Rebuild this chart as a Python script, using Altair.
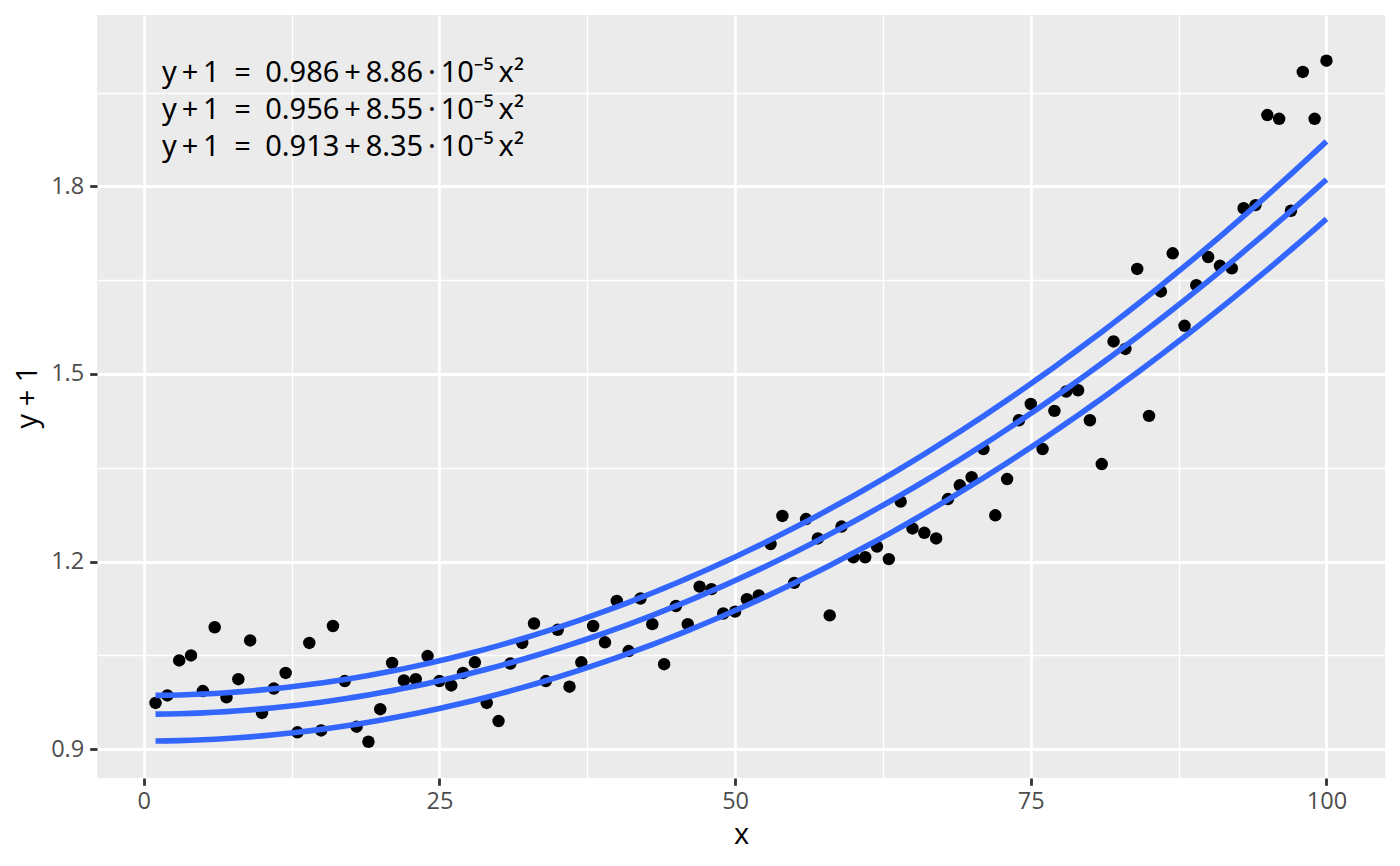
import altair as alt
import pandas as pd

# ---- data ----
x_vals = list(range(1, 101))
y_vals = [
    0.974, 0.986, 1.042, 1.050, 0.993, 1.095, 0.983, 1.012, 1.074, 0.958,
    0.997, 1.022, 0.927, 1.070, 0.930, 1.097, 1.009, 0.936, 0.912, 0.964,
    1.038, 1.010, 1.012, 1.049, 1.009, 1.002, 1.022, 1.039, 0.974, 0.945,
    1.037, 1.070, 1.101, 1.009, 1.091, 1.000, 1.039, 1.097, 1.071, 1.137,
    1.057, 1.141, 1.100, 1.036, 1.129, 1.100, 1.160, 1.156, 1.117, 1.120,
    1.140, 1.146, 1.228, 1.273, 1.166, 1.268, 1.237, 1.114, 1.256, 1.207,
    1.207, 1.224, 1.204, 1.296, 1.253, 1.246, 1.237, 1.300, 1.322, 1.335,
    1.380, 1.274, 1.332, 1.426, 1.452, 1.380, 1.441, 1.472, 1.474, 1.426,
    1.356, 1.552, 1.540, 1.668, 1.433, 1.632, 1.693, 1.577, 1.642, 1.687,
    1.673, 1.669, 1.765, 1.770, 1.914, 1.908, 1.761, 1.983, 1.908, 2.001,
]

# fitted quantile curves: y + 1 = b0 + b2 * 1e-5 * x^2
curve_ids = ["q1", "q2", "q3"]
intercepts = [0.986, 0.956, 0.913]
quad_coefs = [8.86, 8.55, 8.35]

S = "\u2006"   # narrow space
E = "\u2002"   # en space
eq_labels = [
    f"y{S}+{S}1{E}={E}0.986{S}+{S}8.86{S}·{S}10⁻⁵{S}x²",
    f"y{S}+{S}1{E}={E}0.956{S}+{S}8.55{S}·{S}10⁻⁵{S}x²",
    f"y{S}+{S}1{E}={E}0.913{S}+{S}8.35{S}·{S}10⁻⁵{S}x²",
]

x_ticks = [0, 12.5, 25, 37.5, 50, 62.5, 75, 87.5, 100]
y_ticks = [0.9, 1.05, 1.2, 1.35, 1.5, 1.65, 1.8, 1.95]

# ---- tables ----
points = pd.DataFrame({"x": x_vals, "y": y_vals})
coefs = pd.DataFrame({"curve": curve_ids, "b0": intercepts, "b2": quad_coefs})
curves = coefs.merge(pd.DataFrame({"x": x_vals}), how="cross")
eqs = pd.DataFrame({"label": eq_labels, "row": [0, 1, 2]})

FONT = "Open Sans"
x_dom = [-3.95, 104.95]
y_dom = [0.854, 2.074]

x_major = "datum.value % 25 === 0"
y_major = "indexof([0.9, 1.2, 1.5, 1.8], datum.value) >= 0"

x_axis = alt.Axis(
    values=x_ticks,
    labelExpr=f"{x_major} ? format(datum.value, 'd') : ''",
    gridWidth={"condition": {"test": x_major, "value": 2.8}, "value": 1.4},
    tickOpacity={"condition": {"test": x_major, "value": 1}, "value": 0},
    title="x",
)
y_axis = alt.Axis(
    values=y_ticks,
    labelExpr=f"{y_major} ? format(datum.value, '.1f') : ''",
    gridWidth={"condition": {"test": y_major, "value": 2.8}, "value": 1.4},
    tickOpacity={"condition": {"test": y_major, "value": 1}, "value": 0},
    title="y + 1",
)

xs = alt.Scale(domain=x_dom, nice=False, zero=False)
ys = alt.Scale(domain=y_dom, nice=False, zero=False)

pts = alt.Chart(points).mark_circle(size=155, color="black", opacity=1).encode(
    x=alt.X("x:Q", scale=xs, axis=x_axis),
    y=alt.Y("y:Q", scale=ys, axis=y_axis),
)

lines = (
    alt.Chart(curves)
    .transform_calculate(yfit="datum.b0 + datum.b2 * 1e-5 * datum.x * datum.x")
    .mark_line(color="#3366FF", strokeWidth=5.6)
    .encode(
        x=alt.X("x:Q", scale=xs),
        y=alt.Y("yfit:Q", scale=ys),
        detail="curve:N",
    )
)

text = (
    alt.Chart(eqs)
    .transform_calculate(ypix="67 + 37 * datum.row")
    .mark_text(align="left", baseline="alphabetic", fontSize=29, font="Noto Sans", color="black")
    .encode(
        x=alt.value(65),
        y=alt.Y("ypix:Q", scale=None),
        text="label:N",
    )
)

chart = (
    alt.layer(pts, lines, text)
    .properties(
        width=1288,
        height=763,
        autosize=alt.AutoSizeParams(type="none"),
        padding={"left": 89, "top": 7, "right": 7, "bottom": 80},
        background="white",
    )
    .configure_view(fill="#EBEBEB", stroke=None)
    .configure_axis(
        domain=False,
        gridColor="white",
        tickColor="#333333",
        tickWidth=2.8,
        tickSize=7.3,
        labelFont=FONT,
        labelFontSize=23.5,
        labelColor="#4D4D4D",
        titleFont=FONT,
        titleFontSize=29,
        titleFontWeight="normal",
        titleColor="black",
    )
    .configure_axisX(labelPadding=4, titlePadding=8)
    .configure_axisY(labelPadding=6, titlePadding=8)
)

chart.save("out.html", embed_options={"renderer": "svg", "actions": False})
